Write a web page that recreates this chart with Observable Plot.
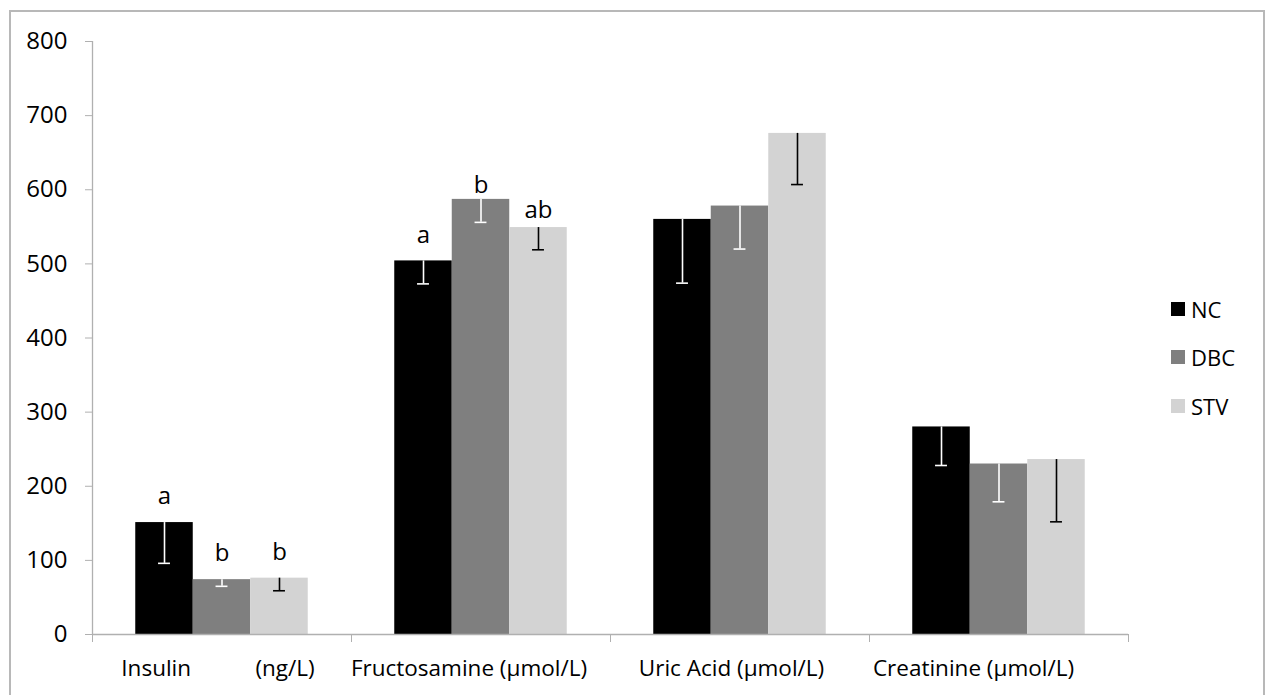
<!DOCTYPE html>
<html>
<head>
<meta charset="utf-8">
<script src="https://cdn.jsdelivr.net/npm/d3@7"></script>
<script src="https://cdn.jsdelivr.net/npm/@observablehq/plot@0.6"></script>
<style>
  body { margin: 0; background: #fff; font-family: "Open Sans", sans-serif; }
  #wrap { position: relative; width: 1266px; height: 695px; overflow: hidden; }
  #border { position: absolute; left: 9px; top: 10px; width: 1256px; height: 720px; border: 2px solid #b8b8b8; box-sizing: border-box; }
  #chart { position: absolute; left: 0; top: 0; }
  #legend { position: absolute; left: 1171px; top: 0; font-size: 22px; color: #000; }
  .item { position: absolute; left: 0; display: flex; align-items: center; white-space: nowrap; height: 30px; }
  .sw { width: 14px; height: 14px; margin-right: 6px; }
</style>
</head>
<body>
<div id="wrap">
  <div id="border"></div>
  <div id="chart"></div>
  <div id="legend"></div>
</div>
<script>
// ---- data ----
const categories = ["Insulin\u00A0\u00A0\u00A0\u00A0\u00A0\u00A0\u00A0\u00A0\u00A0\u00A0\u00A0(ng/L)", "Fructosamine (µmol/L)", "Uric Acid (µmol/L)", "Creatinine (µmol/L)"];
const series = ["NC", "DBC", "STV"];
const ncValues  = [151, 504, 560, 280];
const dbcValues = [74, 587, 578, 230];
const stvValues = [76, 549, 676, 236];
const ncErr  = [55, 31, 86, 52];
const dbcErr = [9, 31, 58, 51];
const stvErr = [17, 30, 69, 84];
const ncLetters  = ["a", "a", "", ""];
const dbcLetters = ["b", "b", "", ""];
const stvLetters = ["b", "ab", "", ""];
const yTicks = [0, 100, 200, 300, 400, 500, 600, 700, 800];

// ---- build table ----
const seriesColors = ["#000000", "#7f7f7f", "#d3d3d3"];
const errColors = ["#ffffff", "#ffffff", "#000000"];
const valuesBy = [ncValues, dbcValues, stvValues];
const errBy = [ncErr, dbcErr, stvErr];
const lettersBy = [ncLetters, dbcLetters, stvLetters];
const gap = 0.334;               // Excel gap width 150%
const bw = (1 - gap) / series.length;
const rows = [];
categories.forEach((c, i) => series.forEach((s, j) => {
  const x1 = i + gap / 2 + j * bw;
  rows.push({ci: i, sj: j, cat: c, series: s, value: valuesBy[j][i], err: errBy[j][i], letter: lettersBy[j][i], x1, x2: x1 + bw, xc: x1 + bw / 2});
}));
// baseline offset (px) of the significance letters above the bar top
const letterDy = {"0-0": 19, "0-1": 18.5, "0-2": 18.5, "1-0": 18, "1-1": 6, "1-2": 10};
// horizontal shift (px) of each category label as placed in the original
const labelDx = [-4, -12, -8.5, -25.5];
const capHalf = 0.023;
const axisGray = "#b0b0b0";

const chart = Plot.plot({
  width: 1266,
  height: 695,
  marginLeft: 92,
  marginRight: 138,
  marginTop: 41,
  marginBottom: 61,
  style: {fontFamily: "'Open Sans', sans-serif", background: "transparent", color: "#000"},
  x: {domain: [0, 4], axis: null},
  y: {domain: [0, 800], axis: null},
  color: {domain: series, range: seriesColors},
  marks: [
    Plot.rect(rows, {x1: "x1", x2: "x2", y1: 0, y2: "value", fill: "series"}),
    Plot.ruleX(rows, {x: "xc", y1: "value", y2: d => d.value - d.err, stroke: d => errColors[d.sj], strokeWidth: 1.6}),
    Plot.ruleY(rows, {y: d => d.value - d.err, x1: d => d.xc - capHalf, x2: d => d.xc + capHalf, stroke: d => errColors[d.sj], strokeWidth: 1.6}),
    ...rows.filter(d => d.letter).map(d => Plot.text([d], {x: "xc", y: "value", text: "letter", lineAnchor: "bottom", dy: -letterDy[d.ci + "-" + d.sj], fontSize: 24, fill: "#000"})),
    Plot.ruleY([0], {stroke: axisGray, strokeWidth: 1.3}),
    Plot.ruleX([0], {stroke: axisGray, strokeWidth: 1.3}),
    Plot.axisY({ticks: yTicks, tickSize: 7, tickPadding: 18, fontSize: 24, stroke: axisGray, fill: "#000", label: null}),
    Plot.axisX({ticks: [0, 1, 2, 3, 4], tickSize: 8, tickFormat: () => "", stroke: axisGray, label: null}),
    ...categories.map((c, i) => Plot.axisX({ticks: [i + 0.5], tickSize: 0, tickPadding: 26, dx: labelDx[i], tickFormat: () => c, fontSize: 22.5, fill: "#000", label: null}))
  ]
});
document.getElementById("chart").appendChild(chart);

// ---- legend ----
const legend = document.getElementById("legend");
const legendCenters = [308.5, 357, 405.5];
series.forEach((s, j) => {
  const it = document.createElement("div");
  it.className = "item";
  it.style.top = (legendCenters[j] - 15) + "px";
  it.innerHTML = `<span class="sw" style="background:${seriesColors[j]}"></span><span>${s}</span>`;
  legend.appendChild(it);
});
</script>
</body>
</html>
